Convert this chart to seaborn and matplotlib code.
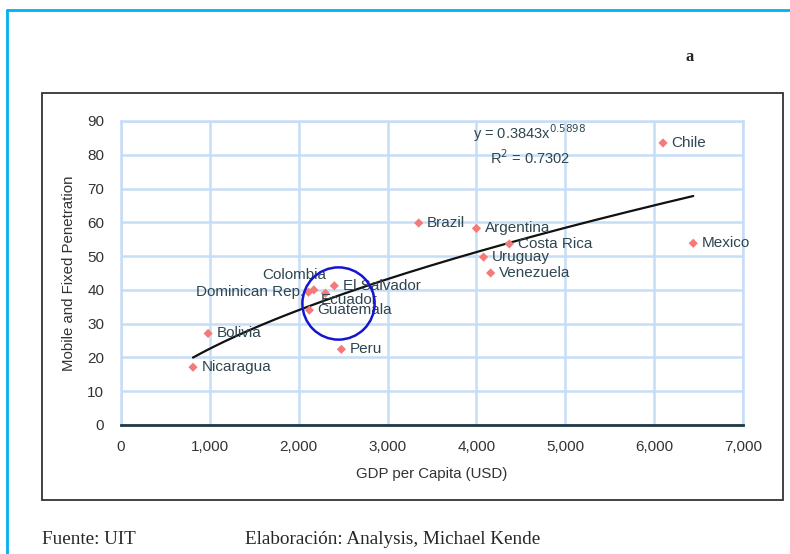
import numpy as np
import pandas as pd
import matplotlib
matplotlib.use("Agg")
import matplotlib.pyplot as plt
from matplotlib.patches import Rectangle
import seaborn as sns

# GDP per capita vs. combined mobile + fixed penetration, Latin America
countries = ["Chile", "Mexico", "Brazil", "Argentina", "Costa Rica", "Uruguay",
             "Venezuela", "El Salvador", "Colombia", "Dominican Rep.", "Ecuador",
             "Guatemala", "Bolivia", "Peru", "Nicaragua"]
gdp = [6100, 6440, 3350, 4000, 4370, 4080, 4160, 2400, 2170, 2110, 2300,
       2120, 980, 2480, 810]
penetration = [83.5, 53.8, 59.8, 58.2, 53.6, 49.7, 45.0, 41.2, 40.0, 39.3, 39.0,
               34.0, 27.1, 22.4, 17.1]

# Power trendline y = a * x^b
trend_a = 0.3843
trend_b = 0.5898
r_squared = 0.7302

x_ticks = [0, 1000, 2000, 3000, 4000, 5000, 6000, 7000]
y_ticks = [0, 10, 20, 30, 40, 50, 60, 70, 80, 90]

# label placement: (dx, dy) in points, horizontal alignment
label_pos = {
    "Colombia": (-14, 11, "center"),
    "Dominican Rep.": (-3, 0, "right"),
    "Ecuador": (-3, -5, "left"),
    "Guatemala": (6, 0, "left"),
}

sns.set_style("white")
plt.rcParams["font.family"] = ["Liberation Sans", "DejaVu Sans"]

df = pd.DataFrame({"country": countries, "gdp": gdp, "pen": penetration})

fig = plt.figure(figsize=(7.9, 5.54), dpi=100)
ax = fig.add_axes([0.1532, 0.2329, 0.7873, 0.5487])

grid_col = "#C6DDF6"
text_col = "#2E4650"

sns.scatterplot(data=df, x="gdp", y="pen", marker="D", s=22, color="#F47A7A",
                edgecolor="none", ax=ax, zorder=4)

xs = np.linspace(min(gdp), max(gdp), 200)
ax.plot(xs, trend_a * xs ** trend_b, color="#111111", lw=1.6, zorder=3)

for c, x, y in zip(countries, gdp, penetration):
    dx, dy, ha = label_pos.get(c, (6, 0, "left"))
    ax.annotate(c, (x, y), xytext=(dx, dy), textcoords="offset points",
                ha=ha, va="center", fontsize=11, color=text_col, zorder=5)

ax.text(4600, 86.5, "y = 0.3843x$^{0.5898}$", ha="center", va="center",
        fontsize=10.5, color=text_col)
ax.text(4600, 79.2, "R$^2$ = 0.7302", ha="center", va="center",
        fontsize=10.5, color=text_col)

# highlight circle around the Central American cluster
ax.plot([2440], [36.1], marker="o", markersize=52, markerfacecolor="none",
        markeredgecolor="#1515D0", markeredgewidth=1.8, zorder=6)

ax.set_xlim(0, 7000)
ax.set_ylim(0, 90)
ax.set_xticks(x_ticks)
ax.set_yticks(y_ticks)
ax.set_xticklabels([f"{v:,}" for v in x_ticks])
ax.grid(True, color=grid_col, lw=1.8)
ax.set_axisbelow(True)
for side in ["top", "right", "left"]:
    ax.spines[side].set_color(grid_col)
    ax.spines[side].set_linewidth(1.8)
ax.spines["bottom"].set_color("#1E3A44")
ax.spines["bottom"].set_linewidth(2.0)
ax.spines["bottom"].set_zorder(7)
ax.tick_params(axis="both", length=0, labelsize=11, colors="#333333")
ax.tick_params(axis="y", pad=12)
ax.tick_params(axis="x", pad=11)
ax.set_xlabel("GDP per Capita (USD)", fontsize=10.8, color="#333333",
              labelpad=9)
ax.set_ylabel("Mobile and Fixed Penetration", fontsize=10.8, color="#333333",
              labelpad=8)

# chart frame
fig.patches.append(Rectangle((42 / 790, 1 - 500 / 554), (783 - 42) / 790,
                             (500 - 93) / 554, transform=fig.transFigure,
                             fill=False, edgecolor="#333333", lw=1.3))
# page border
fig.lines.append(plt.Line2D([7 / 790, 7 / 790], [0, 1 - 10 / 554],
                            transform=fig.transFigure, color="#00B0F0", lw=2))
fig.lines.append(plt.Line2D([7 / 790, 1], [1 - 10 / 554, 1 - 10 / 554],
                            transform=fig.transFigure, color="#00B0F0", lw=2))

fig.text(690 / 790, 1 - 57 / 554, "a", family="Liberation Serif",
         fontweight="bold", fontsize=12, ha="center", va="center")
fig.text(42 / 790, 1 - 540 / 554, "Fuente: UIT", family="Liberation Serif",
         fontsize=13.8, ha="left", va="center")
fig.text(245 / 790, 1 - 540 / 554, "Elaboración: Analysis, Michael Kende",
         family="Liberation Serif", fontsize=13.8, ha="left", va="center")

fig.savefig("out.png", dpi=100)
